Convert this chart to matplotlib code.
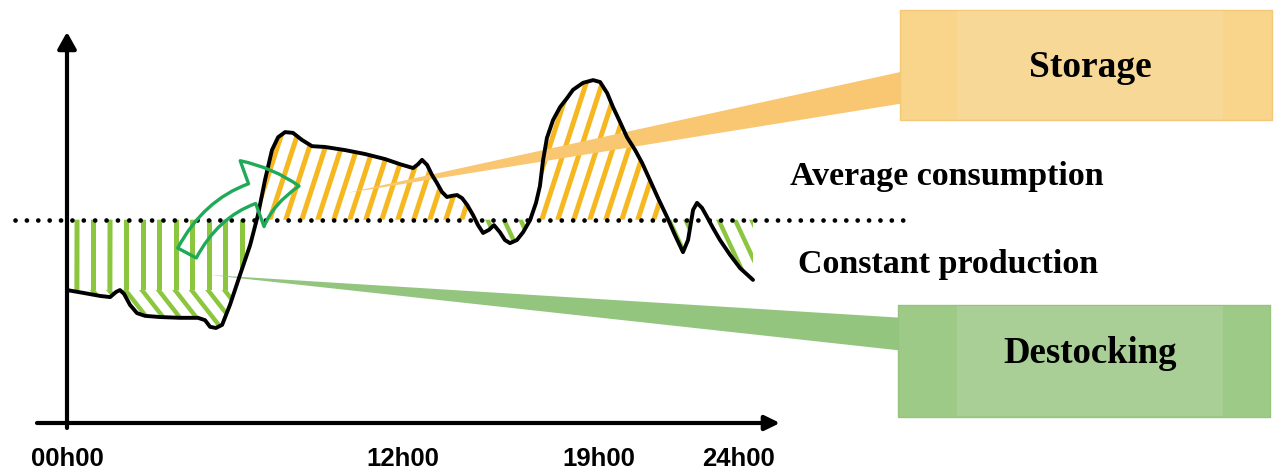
import numpy as np
import matplotlib
matplotlib.use('Agg')
import matplotlib.pyplot as plt
from matplotlib.patches import Rectangle, Polygon, FancyArrowPatch
from matplotlib.collections import LineCollection
from matplotlib.path import Path
from matplotlib.transforms import Affine2D, IdentityTransform

# consumption curve over the day (hours, arbitrary power units)
hours = [0.0, 0.64, 1.18, 1.54, 1.75, 1.89, 2.04, 2.25, 2.5, 2.79, 3.32, 4.04, 4.68, 4.93,
         5.11, 5.32, 5.54, 5.82, 6.18, 6.54, 6.82, 7.07, 7.32, 7.54, 7.79, 8.07, 8.39, 8.75,
         9.21, 9.93, 10.64, 11.36, 11.89, 12.36, 12.54, 12.68, 12.86, 13.04, 13.21, 13.39,
         13.57, 13.75, 13.93, 14.11, 14.29, 14.5, 14.68, 14.86, 15.07, 15.25, 15.46, 15.64,
         15.82, 16.07, 16.29, 16.54, 16.75, 16.89, 17.0, 17.14, 17.36, 17.61, 17.86, 18.07,
         18.43, 18.79, 19.04, 19.29, 19.5, 19.75, 20.0, 20.29, 20.54, 20.82, 21.11, 21.43,
         21.71, 22.0, 22.18, 22.36, 22.5, 22.68, 22.86, 23.07, 23.32, 23.68, 24.04, 24.5]
load = [34.0, 33.2, 32.5, 32.2, 33.5, 34.0, 33.0, 30.2, 28.1, 27.4, 27.1, 26.9, 26.9, 26.3,
        24.6, 24.3, 25.1, 30.2, 37.9, 45.5, 53.2, 62.1, 69.8, 73.1, 74.4, 74.2, 72.4, 70.8,
        70.6, 69.8, 68.8, 67.5, 66.2, 65.2, 66.2, 67.3, 66.0, 63.4, 61.4, 59.1, 57.8, 58.1,
        58.3, 57.5, 55.8, 53.2, 50.6, 48.6, 49.4, 50.6, 48.8, 46.8, 46.0, 46.8, 48.8, 51.9,
        56.3, 60.6, 67.1, 72.9, 77.5, 80.8, 83.1, 85.2, 87.0, 87.7, 87.2, 84.4, 80.8, 77.0,
        73.1, 69.8, 66.5, 62.1, 57.5, 52.7, 48.1, 43.7, 46.8, 54.5, 56.3, 55.0, 52.7, 49.9,
        46.8, 43.0, 39.6, 36.6]
avg_level = 52  # average consumption = constant production
tick_hours = [0, 12, 19, 24]
tick_labels = ['00h00', '12h00', '19h00', '24h00']

GREEN = '#8CC63F'
ORANGE = '#F6B821'

W, H = 1278, 474
fig = plt.figure(figsize=(W / 100, H / 100), dpi=100)
# pixel coords (origin top-left) for the decorations
px = Affine2D().scale(1 / W, -1 / H).translate(0, 1) + fig.transFigure

ax = fig.add_axes([67 / W, 51 / H, 713 / W, 391 / H])
ax.set_xlim(0, 713 / 28)
ax.set_ylim(0, 100)
ax.patch.set_visible(False)
for s in ax.spines.values():
    s.set_visible(False)
ax.set_yticks([])
ax.set_xticks(tick_hours, tick_labels, fontfamily='Liberation Sans',
              fontweight='bold', fontsize=18.5)
ax.tick_params(axis='x', length=0, pad=17)


def stripes(region, color, angle, step=16.5, lw=3.6):
    # parallel lines in screen space, clipped to the filled region
    a = np.radians(angle)
    d = np.array([np.cos(a), np.sin(a)])
    n = np.array([-np.sin(a), np.cos(a)])
    gap = step * abs(np.sin(a))
    c0 = np.array([W / 2, H / 2])
    segs = [[c0 + k * n - 1500 * d, c0 + k * n + 1500 * d]
            for k in np.arange(-1500, 1500, gap)]
    lc = LineCollection(segs, colors=color, linewidths=lw,
                        transform=IdentityTransform(), zorder=1)
    ax.add_collection(lc, autolim=False)
    lc.set_clip_path(Path.make_compound_path(*region.get_paths()), ax.transData)


h = np.array(hours)
y = np.array(load)
low = y[0]
hidden = dict(facecolor='none', edgecolor='none', linewidth=0, interpolate=True)

storage = ax.fill_between(h, y, avg_level, where=(y > avg_level) & (h < 22), **hidden)
dest_top = ax.fill_between(h, np.maximum(y, low), avg_level,
                           where=(y < avg_level) & (h < 10), **hidden)
dest_low = ax.fill_between(h, y, low, where=(y < low), **hidden)
dest_rest = ax.fill_between(h, y, avg_level, where=(y < avg_level) & (h >= 10), **hidden)

stripes(storage, ORANGE, 72, step=16)
stripes(dest_top, GREEN, 90)
stripes(dest_low, GREEN, 128, lw=3.2)
stripes(dest_rest, GREEN, 115, lw=3.2)

# average consumption line
ax.axhline(avg_level, xmin=-52 / 713, xmax=843 / 713, color='black', lw=3.4,
           linestyle=(0, (0.01, 2.4)), dash_capstyle='round', clip_on=False, zorder=3)

# load curve
ax.plot(h, y, color='black', lw=2.8, solid_joinstyle='round',
        solid_capstyle='round', zorder=4)

# axes with arrow heads
ax.annotate('', xy=(1, 0), xytext=(-30 / 713, 0), xycoords='axes fraction',
            arrowprops=dict(arrowstyle='-|>,head_length=0.45,head_width=0.22', lw=3,
                            color='black', shrinkA=0, shrinkB=0, mutation_scale=20))
ax.annotate('', xy=(0, 1), xytext=(0, -5 / 391), xycoords='axes fraction',
            arrowprops=dict(arrowstyle='-|>,head_length=0.5,head_width=0.28', lw=3,
                            color='black', shrinkA=0, shrinkB=0, mutation_scale=20))

# curved green arrow
ax.add_artist(FancyArrowPatch((187, 253), (299, 186), transform=px,
                              arrowstyle='simple,head_length=0.95,head_width=1.4,tail_width=0.42',
                              connectionstyle='arc3,rad=-0.3', mutation_scale=36,
                              shrinkA=0, shrinkB=0, facecolor='none',
                              edgecolor='#1FAA59', lw=2.4, zorder=5, clip_on=False))

# callout pointers
ax.add_artist(Polygon([(347, 193), (905, 71), (905, 103)], closed=True, transform=px,
                      facecolor='#F9C671', edgecolor='none', zorder=2, clip_on=False))
ax.add_artist(Polygon([(210, 275), (905, 318), (905, 351)], closed=True, transform=px,
                      facecolor='#93C57E', edgecolor='none', zorder=2, clip_on=False))

# callout boxes
for x0, y0, w, hgt, outer, inner, edge in [
        (900, 10, 372, 110, '#F9D48B', '#F8D897', '#F3C877'),
        (898, 305, 372, 112, '#9DCA87', '#A9CF97', '#94C47E')]:
    ax.add_artist(Rectangle((x0, y0), w, hgt, transform=px, facecolor=outer,
                            edgecolor=edge, lw=1, zorder=6, clip_on=False))
    ax.add_artist(Rectangle((957, y0 + 1), 266, hgt - 2, transform=px, facecolor=inner,
                            edgecolor='none', zorder=6, clip_on=False))

serif = dict(transform=px, ha='center', va='baseline', fontweight='bold',
             family='Liberation Serif', color='black', zorder=7)
ax.text(1090, 77, 'Storage', fontsize=27, **serif)
ax.text(1090, 363, 'Destocking', fontsize=26.5, **serif)
ax.text(947, 185, 'Average consumption', fontsize=24.5, **serif)
ax.text(948, 273, 'Constant production', fontsize=24.5, **serif)

fig.savefig('out.png', dpi=100, facecolor='white')
